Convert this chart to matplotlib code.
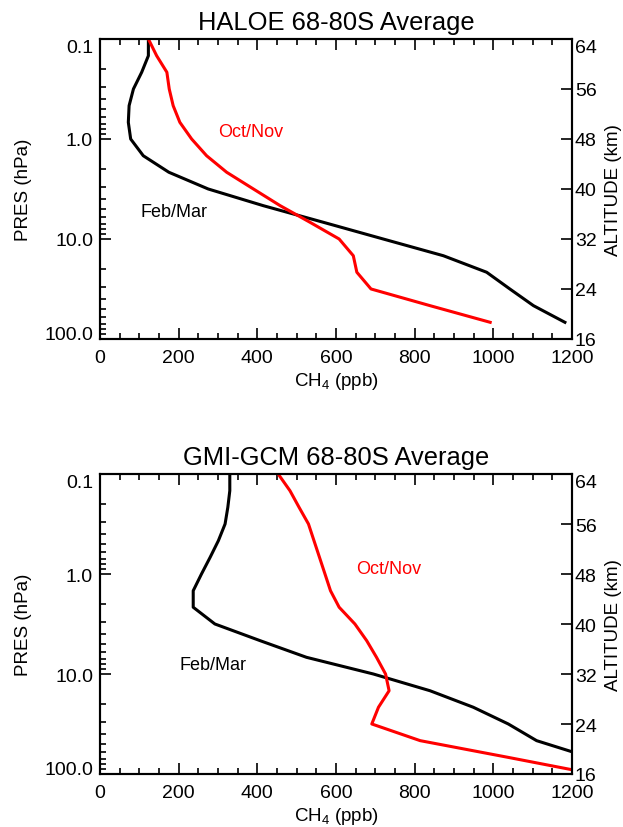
import matplotlib
matplotlib.use("Agg")
import matplotlib.pyplot as plt
import matplotlib.ticker as mticker
import numpy as np

plt.rcParams["font.family"] = ["Liberation Sans", "DejaVu Sans"]
plt.rcParams["mathtext.fontset"] = "custom"
plt.rcParams["mathtext.rm"] = "Liberation Sans"
plt.rcParams["mathtext.it"] = "Liberation Sans:italic"

# UARS pressure grid, 6 levels per decade (hPa)
pressure = [0.1, 0.147, 0.215, 0.316, 0.464, 0.681, 1.0, 1.47, 2.15, 3.16,
            4.64, 6.81, 10.0, 14.7, 21.5, 31.6, 46.4, 68.1]
pressure_gmi = pressure + [100.0]

# HALOE CH4 (ppb)
haloe_febmar = [123, 123, 106, 85, 74, 72, 78, 110, 175, 275,
                415, 568, 720, 873, 983, 1042, 1102, 1182]
haloe_octnov = [123, 144, 170, 176, 186, 203, 233, 271, 322, 390,
                458, 534, 608, 644, 653, 689, 839, 992]

# GMI-GCM CH4 (ppb)
gmi_febmar = [330, 330, 325, 318, 301, 280, 258, 237, 237, 292,
              407, 525, 695, 839, 949, 1038, 1110, 1245, 1330]
gmi_octnov = [453, 483, 506, 530, 544, 558, 572, 586, 608, 648,
              678, 703, 726, 735, 708, 691, 814, 1037, 1256]

pres_ticks = [0.1, 1, 10, 100]
alt_ticks = [16, 24, 32, 40, 48, 56, 64]

panels = [
    ("HALOE 68-80S Average", pressure, pressure, haloe_febmar, haloe_octnov,
     (300, 0.85), (102, 5.25)),
    ("GMI-GCM 68-80S Average", pressure_gmi, pressure_gmi, gmi_febmar, gmi_octnov,
     (651, 0.89), (201, 8.1)),
]

W, H = 623, 828
fig = plt.figure(figsize=(W / 100, H / 100), dpi=100)

axes_boxes = [(100, 40, 472, 300), (100, 475, 472, 300)]
FS = 14

for (title, p_fm, p_on, fm, on, on_xy, fm_xy), (x0, y0, w, h) in zip(panels, axes_boxes):
    ax = fig.add_axes([x0 / W, 1 - (y0 + h) / H, w / W, h / H])
    ax.plot(fm, p_fm, color="black", lw=2.2)
    ax.plot(on, p_on, color="#ff0000", lw=2.2)

    ax.set_yscale("log")
    ax.set_ylim(100, 0.1)
    ax.set_xlim(0, 1200)
    ax.yaxis.set_major_locator(mticker.FixedLocator(pres_ticks))
    ax.yaxis.set_major_formatter(mticker.FuncFormatter(lambda v, pos: f"{v:.1f}"))
    ax.yaxis.set_minor_locator(mticker.LogLocator(base=10, subs=np.arange(2, 10)))
    ax.yaxis.set_minor_formatter(mticker.NullFormatter())
    ax.xaxis.set_major_locator(mticker.MultipleLocator(200))
    ax.xaxis.set_minor_locator(mticker.MultipleLocator(50))

    ax.tick_params(which="both", direction="in", top=True, right=False, width=1.2,
                   labelsize=FS)
    ax.tick_params(which="major", length=8)
    ax.tick_params(which="minor", length=4)
    ax.tick_params(axis="x", pad=7)
    ax.tick_params(axis="y", pad=5)
    for s in ax.spines.values():
        s.set_linewidth(1.5)

    ax.set_title(title, fontsize=18.4, pad=7)
    ax.set_xlabel("CH$_4$ (ppb)", fontsize=13.5, labelpad=3)
    ax.set_ylabel("PRES (hPa)", fontsize=13.5, labelpad=9)

    ax.text(on_xy[0], on_xy[1], "Oct/Nov", color="#ff0000", fontsize=13,
            ha="left", va="center")
    ax.text(fm_xy[0], fm_xy[1], "Feb/Mar", color="black", fontsize=13,
            ha="left", va="center")

    ax2 = ax.twinx()
    ax2.set_ylim(16, 64)
    ax2.yaxis.set_major_locator(mticker.FixedLocator(alt_ticks))
    ax2.tick_params(direction="in", length=8, width=1.2, labelsize=FS, pad=2)
    ax2.set_ylabel("ALTITUDE (km)", fontsize=13.5, labelpad=6)
    for s in ax2.spines.values():
        s.set_linewidth(1.5)

    # end labels pulled inside the axis range, as in the original plot
    fig.canvas.draw()
    for lab in ax.get_yticklabels():
        if lab.get_text() == "0.1":
            lab.set_va("top")
        elif lab.get_text() == "100.0":
            lab.set_va("baseline")
    for lab in ax2.get_yticklabels():
        if lab.get_text() == "64":
            lab.set_va("top")

fig.savefig("out.png", dpi=100)
